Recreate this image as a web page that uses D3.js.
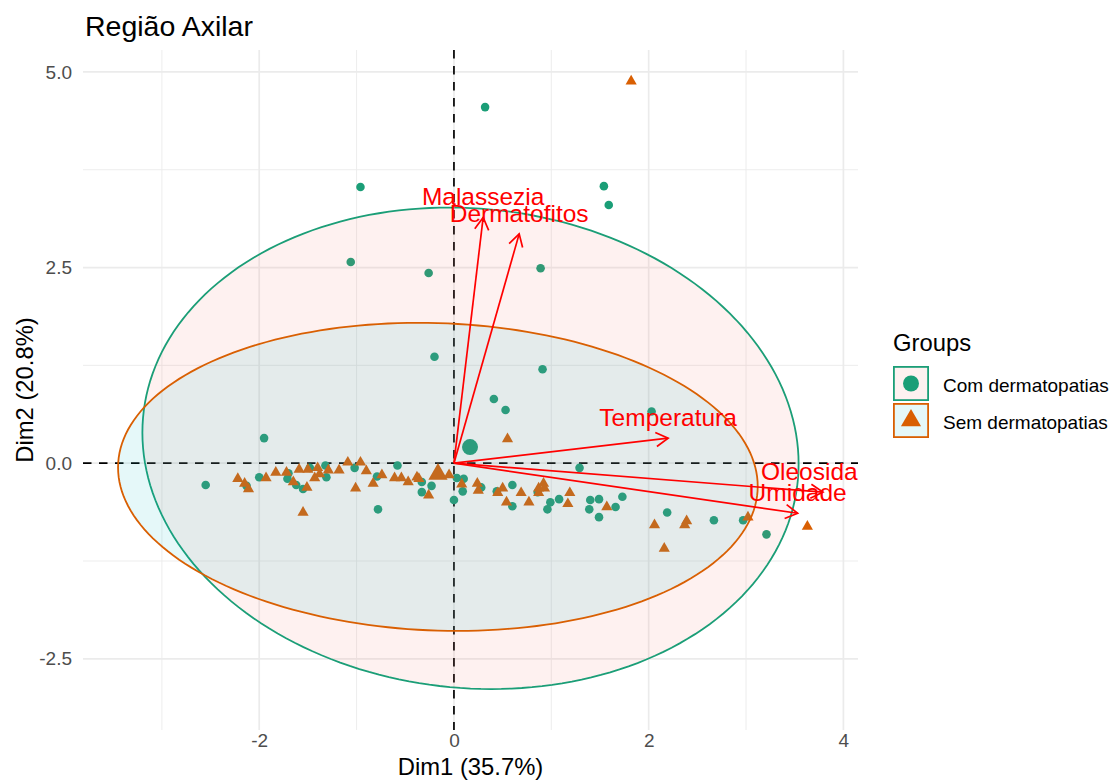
<!DOCTYPE html>
<html>
<head>
<meta charset="utf-8">
<script src="https://cdn.jsdelivr.net/npm/d3@7"></script>
<style>
  body { margin: 0; background: #ffffff; }
  svg { display: block; font-family: "Liberation Sans", Arial, Helvetica, sans-serif; }
</style>
</head>
<body>
<svg id="chart" width="1117" height="780"></svg>
<script>
// ---- PCA biplot data: individuals (Dim1, Dim2) per group ----
const groups = ["Com dermatopatias", "Sem dermatopatias"];
const groupColors = ["#1B9E77", "#D95F02"];
const ellipseFillColors = ["#F8766D", "#00BFC4"];

const comPoints = [
  [0.32, 4.55], [-0.96, 3.53], [1.54, 3.54], [1.59, 3.30], [-1.06, 2.57],
  [-0.26, 2.43], [0.89, 2.49], [-0.20, 1.36], [0.91, 1.20], [0.41, 0.82],
  [0.53, 0.68], [2.03, 0.66], [-1.95, 0.32], [-2.55, -0.28], [-2.13, -0.29],
  [-2.00, -0.18], [-1.70, -0.13], [-1.71, -0.20], [-1.62, -0.28], [-1.55, -0.33],
  [-1.48, -0.06], [-1.31, -0.18], [-1.32, -0.03], [-1.02, -0.06], [-0.79, -0.17],
  [-0.58, -0.03], [-0.33, -0.24], [-0.33, -0.37], [-0.23, -0.29], [-0.78, -0.59],
  [0.00, -0.47], [0.03, -0.19], [0.10, -0.20], [0.09, -0.36], [0.28, -0.31],
  [0.44, -0.36], [0.60, -0.28], [0.60, -0.55], [0.86, -0.37], [0.96, -0.59],
  [0.99, -0.50], [1.08, -0.46], [1.29, -0.06], [1.40, -0.47], [1.49, -0.46],
  [1.39, -0.59], [1.49, -0.69], [1.73, -0.43], [1.66, -0.56], [2.19, -0.63],
  [2.67, -0.73], [2.97, -0.73], [3.21, -0.91]
];

const semPoints = [
  [1.82, 4.88], [0.55, 0.31], [-2.22, -0.20], [-2.15, -0.26], [-2.11, -0.33],
  [-1.93, -0.19], [-1.83, -0.12], [-1.72, -0.12], [-1.65, -0.24], [-1.59, -0.08],
  [-1.51, -0.31], [-1.50, -0.08], [-1.55, -0.63], [-1.43, -0.19], [-1.40, -0.06],
  [-1.38, -0.14], [-1.29, -0.09], [-1.18, -0.09], [-1.09, 0.01], [-0.96, 0.01],
  [-0.90, -0.10], [-1.01, -0.32], [-0.83, -0.26], [-0.74, -0.15], [-0.61, -0.19],
  [-0.54, -0.19], [-0.47, -0.24], [-0.38, -0.18], [-0.36, -0.20], [-0.26, -0.41],
  [-0.05, -0.15], [0.08, -0.27], [0.24, -0.26], [0.25, -0.35], [0.45, -0.38],
  [0.50, -0.32], [0.54, -0.50], [0.69, -0.38], [0.77, -0.50], [0.87, -0.32],
  [0.92, -0.26], [0.93, -0.32], [0.87, -0.38], [1.19, -0.38], [1.17, -0.52],
  [1.57, -0.56], [2.06, -0.79], [2.16, -1.09], [2.39, -0.74], [2.37, -0.79],
  [3.02, -0.69], [3.63, -0.81]
];

// group centroids
const groupMeans = [[0.165, 0.205], [-0.164, -0.14]];

// concentration ellipses: centre, semi-axes and vertical shear (tilt)
const ellipseCenters = [[0.17, 0.19], [-0.165, -0.175]];
const ellipseRadii = [[3.37, 3.07], [3.285, 1.965]];
const ellipseTilt = [-0.2, -0.12];

// variable loadings (arrow tips)
const variables = ["Malassezia", "Dermatofitos", "Temperatura", "Oleosidade", "Umidade"];
const varDim1 = [0.30, 0.67, 2.20, 3.79, 3.53];
const varDim2 = [3.14, 2.93, 0.32, -0.37, -0.64];

// axes
const xTickValues = [-2, 0, 2, 4];
const xTickLabels = ["-2", "0", "2", "4"];
const yTickValues = [-2.5, 0, 2.5, 5];
const yTickLabels = ["-2.5", "0.0", "2.5", "5.0"];
const xMinorTicks = [-3, -1, 1, 3];
const yMinorTicks = [-1.25, 1.25, 3.75];

const titleText = "Região Axilar";
const xTitle = "Dim1 (35.7%)";
const yTitle = "Dim2 (20.8%)";
const legendTitle = "Groups";

// ---- layout ----
const panel = { left: 83, right: 858, top: 50, bottom: 730 };
const x = d3.scaleLinear().domain([-3.81, 4.15]).range([panel.left, panel.right]);
const y = d3.scaleLinear().domain([-3.41, 5.28]).range([panel.bottom, panel.top]);

const svg = d3.select("#chart");

svg.append("defs").append("clipPath").attr("id", "panel-clip")
  .append("rect")
  .attr("x", panel.left).attr("y", panel.top)
  .attr("width", panel.right - panel.left).attr("height", panel.bottom - panel.top);

// grid
const grid = svg.append("g");
grid.selectAll(".xminor").data(xMinorTicks).join("line")
  .attr("x1", d => x(d)).attr("x2", d => x(d))
  .attr("y1", panel.top).attr("y2", panel.bottom)
  .attr("stroke", "#EBEBEB").attr("stroke-width", 0.9);
grid.selectAll(".yminor").data(yMinorTicks).join("line")
  .attr("y1", d => y(d)).attr("y2", d => y(d))
  .attr("x1", panel.left).attr("x2", panel.right)
  .attr("stroke", "#EBEBEB").attr("stroke-width", 0.9);
grid.selectAll(".xmajor").data(xTickValues).join("line")
  .attr("x1", d => x(d)).attr("x2", d => x(d))
  .attr("y1", panel.top).attr("y2", panel.bottom)
  .attr("stroke", "#EBEBEB").attr("stroke-width", 1.7);
grid.selectAll(".ymajor").data(yTickValues).join("line")
  .attr("y1", d => y(d)).attr("y2", d => y(d))
  .attr("x1", panel.left).attr("x2", panel.right)
  .attr("stroke", "#EBEBEB").attr("stroke-width", 1.7);

// axes tick labels via d3 axes
const xAxis = svg.append("g")
  .attr("transform", `translate(0,${panel.bottom})`)
  .call(d3.axisBottom(x).tickValues(xTickValues)
    .tickFormat((d, i) => xTickLabels[i]).tickSize(0).tickPadding(4));
const yAxis = svg.append("g")
  .attr("transform", `translate(${panel.left},0)`)
  .call(d3.axisLeft(y).tickValues(yTickValues)
    .tickFormat((d, i) => yTickLabels[i]).tickSize(0).tickPadding(11));
[xAxis, yAxis].forEach(a => {
  a.select(".domain").remove();
  a.selectAll("text")
    .attr("font-size", 19).attr("fill", "#4D4D4D")
    .attr("font-family", "Liberation Sans, Arial, sans-serif");
});
xAxis.selectAll("text").attr("dy", "0.71em");

const plot = svg.append("g").attr("clip-path", "url(#panel-clip)");

// reference lines through the origin
plot.append("line")
  .attr("x1", panel.left).attr("x2", panel.right)
  .attr("y1", y(0)).attr("y2", y(0))
  .attr("stroke", "#000").attr("stroke-width", 1.7).attr("stroke-dasharray", "8.5,7.5");
plot.append("line")
  .attr("x1", x(0)).attr("x2", x(0))
  .attr("y1", panel.top).attr("y2", panel.bottom)
  .attr("stroke", "#000").attr("stroke-width", 1.7).attr("stroke-dasharray", "8.5,7.5");

// individuals
const smallCircle = d3.symbol().type(d3.symbolCircle).size(Math.PI * 4.3 * 4.3);
const smallTriangle = d3.symbol().type(d3.symbolTriangle).size(54);
const bigCircle = d3.symbol().type(d3.symbolCircle).size(Math.PI * 8 * 8);
const bigTriangle = d3.symbol().type(d3.symbolTriangle).size(160);

plot.append("g").selectAll("path").data(comPoints).join("path")
  .attr("d", smallCircle)
  .attr("transform", d => `translate(${x(d[0])},${y(d[1])})`)
  .attr("fill", groupColors[0]);
plot.append("g").selectAll("path").data(semPoints).join("path")
  .attr("d", smallTriangle)
  .attr("transform", d => `translate(${x(d[0])},${y(d[1])})`)
  .attr("fill", groupColors[1]);

// group centroids
plot.append("path").attr("d", bigCircle)
  .attr("transform", `translate(${x(groupMeans[0][0])},${y(groupMeans[0][1])})`)
  .attr("fill", groupColors[0]);
plot.append("path").attr("d", bigTriangle)
  .attr("transform", `translate(${x(groupMeans[1][0])},${y(groupMeans[1][1])})`)
  .attr("fill", groupColors[1]);

// ellipses
const steps = d3.range(0, 200).map(i => i / 200 * 2 * Math.PI);
const ellipseLine = d3.line().x(d => x(d[0])).y(d => y(d[1])).curve(d3.curveLinearClosed);
groups.forEach((g, i) => {
  const [cx, cy] = ellipseCenters[i];
  const [rx, ry] = ellipseRadii[i];
  const k = ellipseTilt[i];
  const pts = steps.map(t => [cx + rx * Math.cos(t), cy + ry * Math.sin(t) + k * Math.cos(t)]);
  plot.append("path").attr("d", ellipseLine(pts))
    .attr("fill", ellipseFillColors[i]).attr("fill-opacity", 0.1)
    .attr("stroke", groupColors[i]).attr("stroke-width", 1.8);
});

// variable arrows
const arrows = plot.append("g");
variables.forEach((v, i) => {
  const x0 = x(0), y0 = y(0), x1 = x(varDim1[i]), y1 = y(varDim2[i]);
  arrows.append("line")
    .attr("x1", x0).attr("y1", y0).attr("x2", x1).attr("y2", y1)
    .attr("stroke", "#FF0000").attr("stroke-width", 1.7);
  const ang = Math.atan2(y1 - y0, x1 - x0);
  const L = 14, a = Math.PI / 6;
  const p1 = [x1 - L * Math.cos(ang - a), y1 - L * Math.sin(ang - a)];
  const p2 = [x1 - L * Math.cos(ang + a), y1 - L * Math.sin(ang + a)];
  arrows.append("path")
    .attr("d", `M${p1[0]},${p1[1]}L${x1},${y1}L${p2[0]},${p2[1]}`)
    .attr("fill", "none").attr("stroke", "#FF0000").attr("stroke-width", 1.7);
  arrows.append("text")
    .attr("x", x1).attr("y", y1 - 12)
    .attr("text-anchor", "middle")
    .attr("font-size", 24.5).attr("fill", "#FF0000")
    .text(v);
});

// titles
svg.append("text").attr("x", 85).attr("y", 36)
  .attr("font-size", 28.5).attr("fill", "#000").text(titleText);
svg.append("text").attr("x", (panel.left + panel.right) / 2).attr("y", 775)
  .attr("text-anchor", "middle").attr("font-size", 23.8).attr("fill", "#000").text(xTitle);
svg.append("text")
  .attr("transform", `translate(33,${(panel.top + panel.bottom) / 2}) rotate(-90)`)
  .attr("text-anchor", "middle").attr("font-size", 23.8).attr("fill", "#000").text(yTitle);

// legend
const legend = svg.append("g");
legend.append("text").attr("x", 893).attr("y", 351)
  .attr("font-size", 23.8).attr("fill", "#000").text(legendTitle);
const keyTop = [366, 403];
const legendSymbols = [bigCircle, d3.symbol().type(d3.symbolTriangle).size(175)];
groups.forEach((g, i) => {
  legend.append("rect")
    .attr("x", 893).attr("y", keyTop[i]).attr("width", 36).attr("height", 35)
    .attr("fill", "#fff");
  legend.append("rect")
    .attr("x", 893.9).attr("y", keyTop[i] + 0.9).attr("width", 34.2).attr("height", 33.2)
    .attr("fill", ellipseFillColors[i]).attr("fill-opacity", 0.1)
    .attr("stroke", groupColors[i]).attr("stroke-width", 1.8);
  legend.append("path").attr("d", legendSymbols[i])
    .attr("transform", `translate(911,${keyTop[i] + 17.5})`)
    .attr("fill", groupColors[i]);
  legend.append("text").attr("x", 943).attr("y", keyTop[i] + 26)
    .attr("font-size", 19).attr("fill", "#000").text(g);
});
</script>
</body>
</html>
